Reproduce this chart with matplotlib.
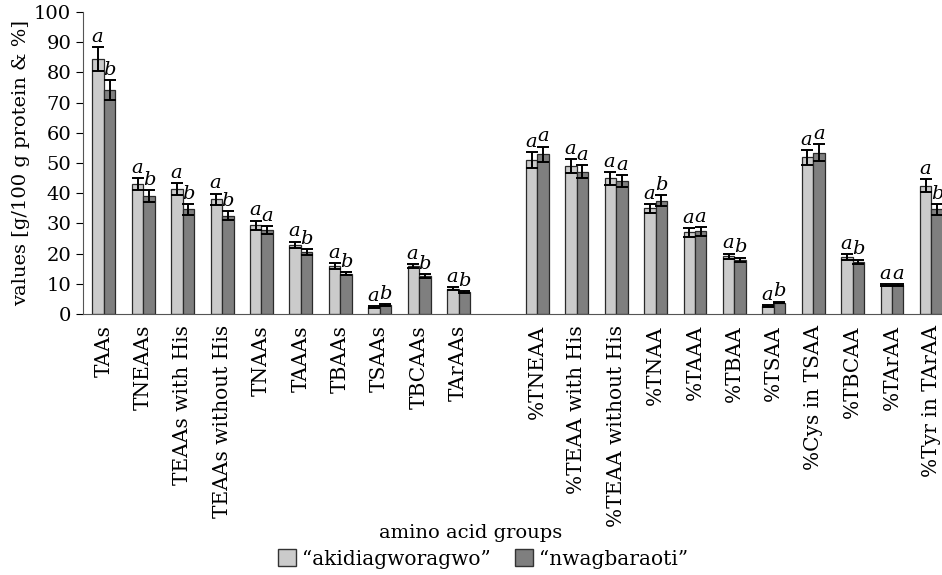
import numpy as np
import matplotlib
matplotlib.use('Agg')
import matplotlib.pyplot as plt
from matplotlib.patches import Patch

# amino acid groups (left block: g/100 g protein, right block: %)
groups_left = ['TAAs', 'TNEAAs', 'TEAAs with His', 'TEAAs without His', 'TNAAs',
               'TAAAs', 'TBAAs', 'TSAAs', 'TBCAAs', 'TArAAs']
groups_right = ['%TNEAA', '%TEAA with His', '%TEAA without His', '%TNAA', '%TAAA',
                '%TBAA', '%TSAA', '%Cys in TSAA', '%TBCAA', '%TArAA', '%Tyr in TArAA']

# "akidiagworagwo"
aki_vals = [84.4, 43.0, 41.4, 38.0, 29.4, 23.0, 15.9, 2.3, 15.9, 8.4,
            51.0, 49.0, 44.9, 35.0, 27.0, 19.1, 2.7, 51.9, 18.8, 9.7, 42.5]
aki_err = [4.1, 2.0, 2.0, 1.9, 1.5, 1.0, 1.0, 0.3, 0.7, 0.4,
           2.5, 2.3, 2.2, 1.5, 1.5, 0.9, 0.3, 2.4, 1.0, 0.3, 2.1]
aki_sig = list('aaaaaaaaaa') + list('aaaaaaaaaaa')

# "nwagbaraoti"
nwa_vals = [74.1, 39.0, 34.7, 32.6, 27.8, 20.4, 13.4, 2.9, 12.6, 7.3,
            52.9, 47.1, 44.0, 37.5, 27.4, 18.0, 3.8, 53.4, 17.3, 9.7, 34.7]
nwa_err = [3.4, 2.0, 1.8, 1.6, 1.3, 1.0, 0.6, 0.3, 0.6, 0.4,
           2.5, 2.2, 2.0, 1.8, 1.5, 0.7, 0.3, 2.8, 0.7, 0.3, 1.8]
nwa_sig = list('bbbbabbbbb') + list('aaababbabab')

plt.rcParams['font.family'] = ['DejaVu Serif']

labels = groups_left + groups_right
# leave one empty slot between the two blocks
x = np.array(list(range(len(groups_left))) +
             [len(groups_left) + 1 + i for i in range(len(groups_right))], dtype=float)
w = 0.29

fig = plt.figure(figsize=(9.42, 5.75), dpi=100)
ax = fig.add_axes([83 / 942, 1 - 314 / 575, (942 - 83) / 942, (314 - 12) / 575])

light = '#cbcbcb'
dark = '#7f7f7f'
ebk = dict(ecolor='black', elinewidth=1.4, capsize=4, capthick=1.4)
ax.bar(x - w / 2, aki_vals, w, yerr=aki_err, color=light, edgecolor='#2a2a2a',
       linewidth=0.9, error_kw=ebk, zorder=2)
ax.bar(x + w / 2, nwa_vals, w, yerr=nwa_err, color=dark, edgecolor='#2a2a2a',
       linewidth=0.9, error_kw=ebk, zorder=2)

for xi, v, e, s in zip(x - w / 2, aki_vals, aki_err, aki_sig):
    ax.text(xi - 0.02, v + e + 0.4, s, ha='center', va='bottom', style='italic', fontsize=14)
for xi, v, e, s in zip(x + w / 2, nwa_vals, nwa_err, nwa_sig):
    ax.text(xi, v + e + 0.4, s, ha='center', va='bottom', style='italic', fontsize=14)

ax.set_xlim(-0.53, 21.27)
ax.set_ylim(0, 100)
ax.set_yticks(range(0, 101, 10))
ax.set_xticks(x)
ax.set_xticklabels(labels, rotation=90, fontsize=14.5)
ax.tick_params(axis='x', length=0, pad=8)
ax.tick_params(axis='y', labelsize=14, length=5, direction='out')
for sp in ['top', 'right']:
    ax.spines[sp].set_visible(False)
ax.spines['left'].set_color('#555555')
ax.spines['bottom'].set_color('#555555')

ax.set_ylabel('values [g/100 g protein & %]', fontsize=14, labelpad=3)
fig.text(0.5, 1 - 533 / 575, 'amino acid groups', ha='center', va='center', fontsize=14)

handles = [Patch(facecolor=light, edgecolor='#333333', label='\u201cakidiagworagwo\u201d'),
           Patch(facecolor=dark, edgecolor='#333333', label='\u201cnwagbaraoti\u201d')]
fig.legend(handles=handles, loc='center', bbox_to_anchor=(0.513, 1 - 559 / 575), ncol=2,
           frameon=False, fontsize=14.5, handlelength=0.9, handleheight=0.9,
           handletextpad=0.3, columnspacing=1.2, borderpad=0)

fig.savefig('out.png', dpi=100)
